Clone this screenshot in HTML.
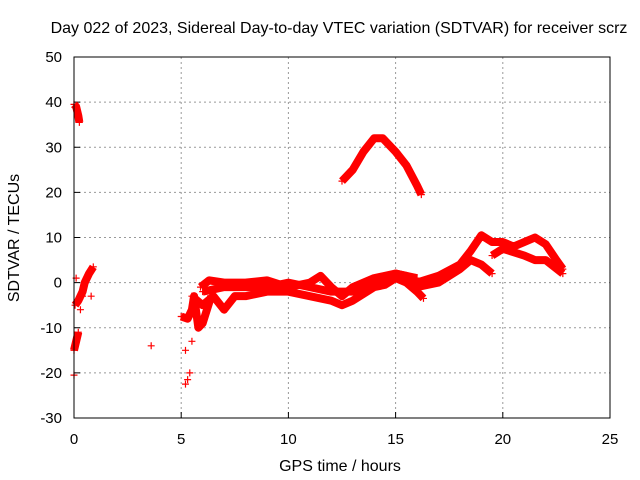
<!DOCTYPE html>
<html><head><meta charset="utf-8"><style>
body{margin:0;background:#fff}
svg{display:block;font-family:"Liberation Sans",sans-serif}
</style></head><body>
<svg id="c" width="640" height="480">
<text x="339" y="33" text-anchor="middle" font-size="16">Day 022 of 2023, Sidereal Day-to-day VTEC variation (SDTVAR) for receiver scrz</text>
<text x="340" y="471" text-anchor="middle" font-size="16">GPS time / hours</text>
<text transform="translate(19,238) rotate(-90)" text-anchor="middle" font-size="16">SDTVAR / TECUs</text>
<g id="grid"></g><g id="marks"></g>
<rect x="74" y="57" width="536" height="361" fill="none" stroke="#000"/>
</svg>
<script>
const xTicks=[0,5,10,15,20,25];
const yTicks=[-30,-20,-10,0,10,20,30,40,50];
const trackBump=[[12.5,22.5],[13,25],[13.5,29],[14,32],[14.4,32],[15,29],[15.5,26],[16,21.5],[16.2,19.5]];
const trackUpper=[[5.9,-1],[6.3,0.5],[7,0],[8,0],[9,0.5],[10,-1],[11,0],[11.5,1.5],[12,-1],[12.5,-3],[13,-1],[14,1],[15,2],[15.5,1.5],[16,0],[17,1.5],[18,4],[18.5,7],[19,10.5],[19.5,9],[20,9],[20.5,8],[21,9],[21.5,10],[22,8.5],[22.5,5],[22.8,3]];
const trackLower=[[5.5,-3],[6,-5],[6.5,-3],[7,-6],[7.5,-3],[8,-3],[9,-2],[10,-2],[11,-3],[12,-4],[12.5,-5],[13,-4],[14,-1],[14.5,-0.5],[15,1],[15.5,0],[16,-2],[16.3,-3.5]];
const trackMiddle=[[6,-2],[7,-1],[8,-1],[9,-1],[10,0],[11,-1],[12,-2],[13,-2],[14,0],[15,2],[16,1]];
const trackLate1=[[16,-1],[17,0],[18,3],[18.5,5],[19,4],[19.5,2]];
const trackLate2=[[19.5,6],[20,7.5],[21,6],[21.5,5],[22,5],[22.8,2]];
const trackEarlyTop=[[0,39.5],[0.1,39],[0.2,37],[0.25,35.5]];
const trackEarlyLow=[[0,-15],[0.1,-13],[0.2,-11]];
const trackEarlyMid=[[0.05,-5],[0.2,-4],[0.4,-2],[0.5,0],[0.7,2],[0.9,3.5]];
const trackMorning=[[5,-7.5],[5.3,-8],[5.5,-6],[5.6,-3],[5.8,-10],[6,-9],[6.2,-6],[6.4,-3]];
const scatter=[[0.3,-6],[0.8,-3],[3.6,-14],[0,-20.5],[5.2,-15],[5.4,-20],[5.2,-22.5],[5.3,-21.5],[5.5,-13],[0.4,-3],[0.1,1]];
const X=v=>74+v*536/25, Y=v=>418-(v+30)*361/80;
const NS="http://www.w3.org/2000/svg";
const svg=document.getElementById('c'),grid=document.getElementById('grid'),marks=document.getElementById('marks');
function mk(t,a,p){const e=document.createElementNS(NS,t);for(const k in a)e.setAttribute(k,a[k]);p.appendChild(e);return e;}
xTicks.forEach(t=>{
 if(t>0&&t<25){const l=mk('line',{x1:X(t),x2:X(t),y1:57,y2:418,stroke:'#999','stroke-dasharray':'2,3'},grid);
 
 }
 const tk=mk('line',{x1:X(t),x2:X(t),y1:418,y2:412,stroke:'#000'},grid);
 
 
 const tx=mk('text',{x:X(t),y:444,'text-anchor':'middle','font-size':15},grid);tx.textContent=t;
 
 
});
yTicks.forEach(t=>{
 if(t>-30&&t<50){const l=mk('line',{x1:74,x2:610,y1:Y(t),y2:Y(t),stroke:'#999','stroke-dasharray':'2,3'},grid);
 
 }
 const tk=mk('line',{x1:74,x2:80,y1:Y(t),y2:Y(t),stroke:'#000'},grid);
 
 
 const tx=mk('text',{x:62,y:Y(t)+5,'text-anchor':'end','font-size':15},grid);tx.textContent=t;
 
 
});
function plus(p,name){const s=3.5;const e=mk('path',{d:`M${X(p[0])-s},${Y(p[1])}h${2*s}M${X(p[0])},${Y(p[1])-s}v${2*s}`,stroke:'#f00','stroke-width':1.2},marks);
 
 }
const tracks=[[trackBump,'track-bump'],[trackUpper,'track-upper'],[trackLower,'track-lower'],[trackMiddle,'track-middle'],[trackLate1,'track-late-1'],[trackLate2,'track-late-2'],[trackEarlyTop,'track-early-top'],[trackEarlyLow,'track-early-low'],[trackEarlyMid,'track-early-mid'],[trackMorning,'track-morning']];
tracks.forEach(([d,n])=>{
 const pl=mk('polyline',{points:d.map(p=>X(p[0])+','+Y(p[1])).join(' '),fill:'none',stroke:'#f00','stroke-width':8,'stroke-linejoin':'round'},marks);
 
 
 d.forEach(p=>plus(p,n+'-point'));
});
scatter.forEach(p=>plus(p,'scatter-point'));
</script>
</body></html>
